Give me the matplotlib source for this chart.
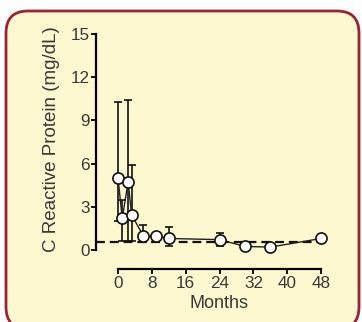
import numpy as np
import matplotlib
matplotlib.use("Agg")
import matplotlib.pyplot as plt
from matplotlib.patches import FancyBboxPatch

plt.rcParams['font.family'] = ['Liberation Sans', 'DejaVu Sans']

# CRP over follow-up (mean with error bars)
months = [0, 1, 2.4, 3.2, 6, 9, 12, 24, 30, 36, 48]
crp = [5.0, 2.2, 4.75, 2.45, 0.97, 0.95, 0.8, 0.72, 0.25, 0.2, 0.8]
crp_upper = [10.3, 3.5, 10.4, 5.9, 1.75, 0.95, 1.6, 1.15, 0.25, 0.2, 0.8]
crp_lower = [2.0, 0.6, 0.6, 0.6, 0.55, 0.95, 0.3, 0.3, 0.25, 0.2, 0.8]
normal_level = 0.55
x_ticks = [0, 8, 16, 24, 32, 40, 48]
y_ticks = [0, 3, 6, 9, 12, 15]

fig = plt.figure(figsize=(3.62, 3.22), dpi=100)
fig.patch.set_facecolor('white')

# framed panel behind the chart
bg = fig.add_axes([0, 0, 1, 1])
bg.set_xlim(0, 362)
bg.set_ylim(322, 0)
bg.axis('off')
bg.add_patch(FancyBboxPatch((6, 11), 353, 318,
                            boxstyle="round,pad=0,rounding_size=22",
                            facecolor='#fdf8cf', edgecolor='#9b2336',
                            linewidth=2.0))

ax = fig.add_axes([96 / 362, 72 / 322, 234 / 362, 216 / 322])
ax.set_facecolor('none')
ax.set_xlim(-5.2, 50.1)
ax.set_ylim(0, 15)

lo = np.array(crp) - np.array(crp_lower)
hi = np.array(crp_upper) - np.array(crp)
ax.errorbar(months, crp, yerr=[lo, hi], fmt='none', ecolor='#111111',
            elinewidth=1.2, capsize=3, capthick=1.2, zorder=2, clip_on=False)
ax.plot([-5.2, 49.6], [normal_level, normal_level], color='#111111',
        linestyle=(0, (4, 2.2)), linewidth=1.6, zorder=3, clip_on=False)
ax.plot(months, crp, '-', color='#222222', linewidth=1.0, marker='o',
        markersize=8, markerfacecolor='white', markeredgecolor='#111111',
        markeredgewidth=1.2, zorder=4, clip_on=False)

for side in ['top', 'right']:
    ax.spines[side].set_visible(False)
ax.spines['left'].set_linewidth(1.6)
ax.spines['bottom'].set_linewidth(1.6)
ax.spines['left'].set_bounds(0, 15)
ax.spines['bottom'].set_bounds(0, 48)
ax.spines['bottom'].set_position(('outward', 14))

ax.set_xticks(x_ticks)
ax.set_yticks(y_ticks)
ax.tick_params(axis='both', direction='out', length=3.5, width=1.4,
               labelsize=12.3, labelcolor='#383838', color='#111111')
ax.tick_params(axis='y', pad=1)
ax.tick_params(axis='x', pad=1)

fig.text(52 / 362, 1 - 139 / 322, "C Reactive Protein (mg/dL)", rotation=90,
         ha='center', va='center', fontsize=13.5, color='#383838')
fig.text(219 / 362, 1 - 303 / 322, "Months", ha='center', va='center',
         fontsize=13, color='#383838')

fig.savefig("out.png", dpi=100)
